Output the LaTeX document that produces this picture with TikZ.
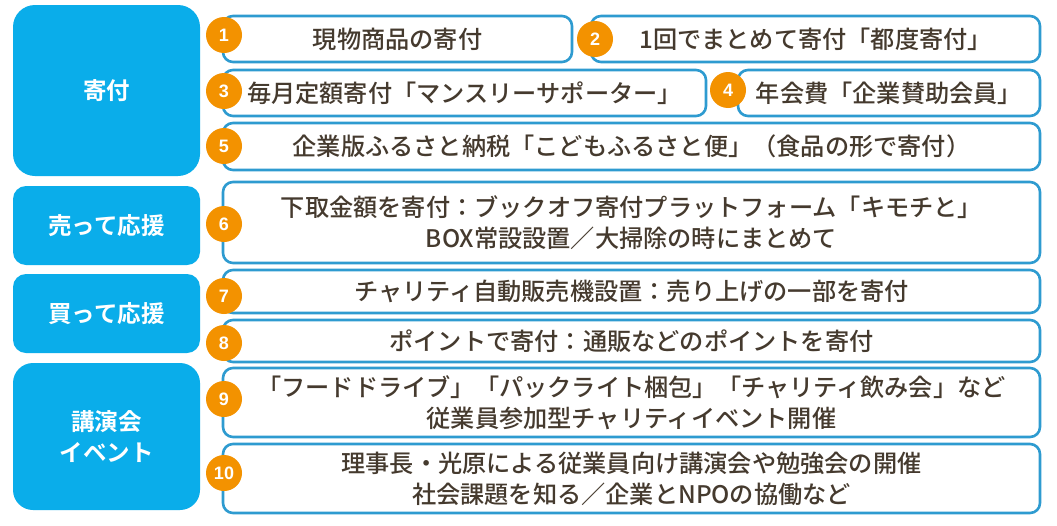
\documentclass[tikz,border=0pt]{standalone}
\usepackage{fontspec}
\newfontfamily\jp{Noto Sans CJK JP Medium}
\newfontfamily\jpb{Noto Sans CJK JP Bold}
\newfontfamily\numf{Liberation Sans}
\definecolor{catblue}{HTML}{0AADEA}
\definecolor{edgeblue}{HTML}{2E9BD0}
\definecolor{numorange}{HTML}{F39200}
\definecolor{txtbrown}{HTML}{453A2E}
\tikzset{
  catbox/.style={fill=catblue, draw=none, text=white, align=center,
    font=\jpb\fontsize{23.5}{31}\selectfont, inner sep=0pt},
  itembox/.style={fill=white, draw=edgeblue, line width=2.6pt, rounded corners=10pt,
    text=txtbrown, align=center, font=\jp\fontsize{24.2}{31}\selectfont, inner sep=0pt},
  numdot/.style={circle, fill=numorange, draw=none, minimum size=36pt, inner sep=0pt,
    text=white, font=\numf\bfseries\fontsize{18}{18}\selectfont},
}
\begin{document}
\begin{tikzpicture}[x=1pt,y=-1pt]
\useasboundingbox[fill=white] (0,0) rectangle (1057,525);
% category boxes
\node[catbox, rounded corners=22pt, minimum width=187pt, minimum height=171pt] (L1) at (106.5,90.5) {寄付};
\node[catbox, rounded corners=13pt, minimum width=187pt, minimum height=79pt] (L2) at (106.5,225.5) {売って応援};
\node[catbox, rounded corners=13pt, minimum width=187pt, minimum height=79pt] (L3) at (106.5,313.5) {買って応援};
\node[catbox, rounded corners=20pt, minimum width=187pt, minimum height=147pt] (L4) at (106.5,436.5) {講演会\\イベント};
% item boxes
\node[itembox, minimum width=349pt, minimum height=46pt] (B1) at (397.5,39) {現物商品の寄付};
\node[itembox, minimum width=449pt, minimum height=46pt] (B2) at (815.5,39) {1回でまとめて寄付「都度寄付」};
\node[itembox, minimum width=483pt, minimum height=46pt] (B3) at (464.5,93) {毎月定額寄付「マンスリーサポーター」};
\node[itembox, minimum width=302pt, minimum height=46pt] (B4) at (889,93) {年会費「企業賛助会員」};
\node[itembox, minimum width=817pt, minimum height=47pt] (B5) at (631.5,146.5) {企業版ふるさと納税「こどもふるさと便」（食品の形で寄付）};
\node[itembox, minimum width=817pt, minimum height=81pt] (B6) at (631.5,222.5) {下取金額を寄付：ブックオフ寄付プラットフォーム「キモチと」\\BOX常設設置／大掃除の時にまとめて};
\node[itembox, minimum width=817pt, minimum height=43pt] (B7) at (631.5,291.5) {チャリティ自動販売機設置：売り上げの一部を寄付};
\node[itembox, minimum width=817pt, minimum height=42pt] (B8) at (631.5,341) {ポイントで寄付：通販などのポイントを寄付};
\node[itembox, minimum width=817pt, minimum height=69pt] (B9) at (631.5,402.5) {「フードドライブ」「パックライト梱包」「チャリティ飲み会」など\\従業員参加型チャリティイベント開催};
\node[itembox, minimum width=817pt, minimum height=69pt] (B10) at (631.5,478.5) {理事長・光原による従業員向け講演会や勉強会の開催\\社会課題を知る／企業とNPOの協働など};
% number badges
\node[numdot] (N1) at (224,35) {1};
\node[numdot] (N2) at (595,39) {2};
\node[numdot] (N3) at (224,91) {3};
\node[numdot] (N4) at (728,90) {4};
\node[numdot] (N5) at (224,146) {5};
\node[numdot] (N6) at (224,224) {6};
\node[numdot] (N7) at (224,296) {7};
\node[numdot] (N8) at (224,343) {8};
\node[numdot] (N9) at (224,399) {9};
\node[numdot] (N10) at (224,473) {10};
\end{tikzpicture}
\end{document}
